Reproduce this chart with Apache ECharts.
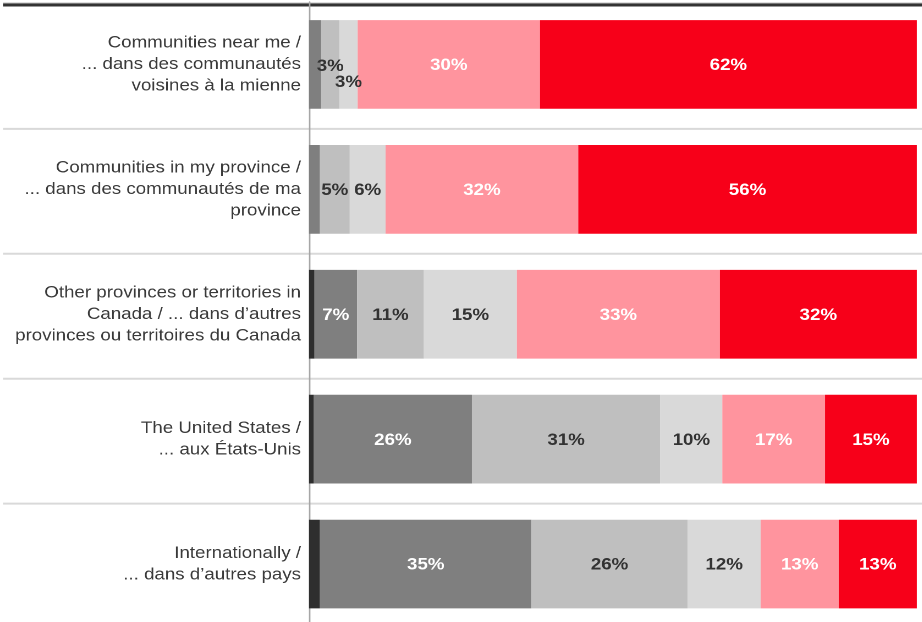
<!DOCTYPE html>
<html>
<head>
<meta charset="utf-8">
<script src="https://cdn.jsdelivr.net/npm/echarts@6/dist/echarts.min.js"></script>
<style>
html,body{margin:0;padding:0;background:#fff;overflow:hidden;width:922px;height:622px;}
#chart{width:838.18px;height:632px;transform:scaleX(1.1);transform-origin:0 0;}
</style>
</head>
<body>
<div id="chart"></div>
<script>
const categories = [
  "Communities near me /\n... dans des communautés\nvoisines à la mienne",
  "Communities in my province /\n... dans des communautés de ma\nprovince",
  "Other provinces or territories in\nCanada / ... dans d\u2019autres\nprovinces ou territoires du Canada",
  "The United States /\n... aux États-Unis",
  "Internationally /\n... dans d\u2019autres pays"
];
const s1 = [0, 0, 0.9, 0.8, 1.8];
const s2 = [2.0, 1.8, 7.0, 26.0, 34.8];
const s3 = [3.0, 4.9, 11.0, 31.0, 25.7];
const s4 = [3.0, 5.9, 15.3, 10.2, 12.0];
const s5 = [30.0, 31.7, 33.4, 16.9, 12.85];
const s6 = [62.0, 55.7, 32.4, 15.1, 12.85];

const colors = ['#2e2e2e', '#7f7f7f', '#bfbfbf', '#d9d9d9', '#ff949e', '#f70019'];
const labelColors = ['#ffffff', '#ffffff', '#333333', '#333333', '#ffffff', '#ffffff'];
const seriesData = [s1, s2, s3, s4, s5, s6];

const SX = 1.1;
const chart = echarts.init(document.getElementById('chart'), null, {renderer: 'canvas', devicePixelRatio: 2});

function fmt(p) {
  return p.value >= 2.5 ? Math.round(p.value) + '%' : '';
}

const series = seriesData.map((arr, si) => ({
  type: 'bar',
  stack: 'total',
  barWidth: '71%',
  silent: true,
  itemStyle: {color: colors[si]},
  label: {
    show: true,
    position: 'inside',
    offset: [0, 1],
    formatter: fmt,
    color: labelColors[si],
    fontWeight: 'bold',
    fontSize: 17,
    fontFamily: 'Liberation Sans, Arial, sans-serif'
  },
  data: arr.map((v, i) => {
    if (i === 0 && si === 2) return {value: v, label: {offset: [0, 2]}};
    if (i === 0 && si === 3) return {value: v, label: {offset: [0, 18]}};
    return v;
  })
}));

chart.setOption({
  animation: false,
  grid: {left: 309 / SX, right: 5 / SX, top: 2, height: 624.5, containLabel: false},
  xAxis: {type: 'value', min: 0, max: 100, show: false},
  yAxis: {
    type: 'category',
    inverse: true,
    data: categories,
    axisTick: {show: false},
    axisLine: {show: true, lineStyle: {color: '#a6a6a6', width: 1.4}},
    axisLabel: {
      margin: 8 / SX,
      fontSize: 17,
      lineHeight: 21.5,
      padding: [6, 0, 0, 0],
      color: '#3a3a3a',
      align: 'right',
      fontFamily: 'Liberation Sans, Arial, sans-serif'
    },
    splitLine: {show: false}
  },
  series: series
});

// decorative row separators spanning full width
const gfx = [];
const c0 = chart.convertToPixel({yAxisIndex: 0}, 0);
const c1 = chart.convertToPixel({yAxisIndex: 0}, 1);
const band = c1 - c0;
const x0 = 3 / SX, w = 919 / SX;
for (let i = 0; i < categories.length - 1; i++) {
  const y = chart.convertToPixel({yAxisIndex: 0}, i) + band / 2 + 2;
  gfx.push({type: 'rect', shape: {x: x0, y: y - 1, width: w, height: 2}, style: {fill: '#d9d9d9'}, z: 0});
}
gfx.push({type: 'rect', shape: {x: x0, y: 2.5, width: w, height: 1}, style: {fill: '#bdbdbd'}, z: 0});
gfx.push({type: 'rect', shape: {x: x0, y: 3.5, width: w, height: 3}, style: {fill: '#333333'}, z: 0});
chart.setOption({graphic: gfx});
</script>
</body>
</html>
